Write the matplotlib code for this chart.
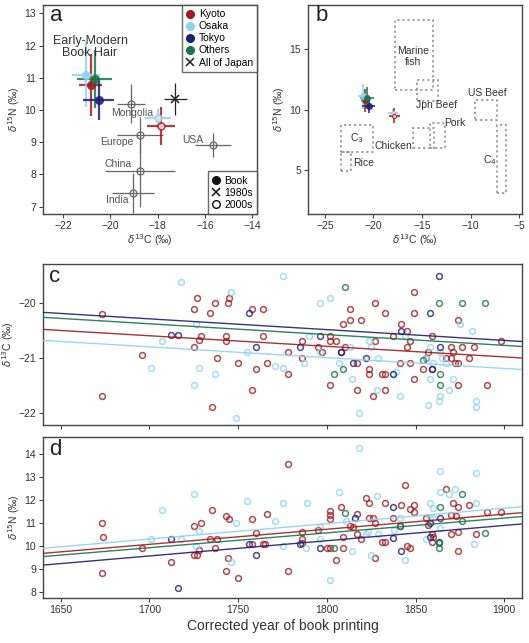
import matplotlib
matplotlib.use("Agg")
import matplotlib.pyplot as plt
from matplotlib.lines import Line2D
from matplotlib.patches import Rectangle

plt.rcParams["font.family"] = ["Liberation Sans", "DejaVu Sans"]
plt.rcParams["mathtext.fontset"] = "dejavusans"

CITIES = ["Kyoto", "Osaka", "Tokyo", "Others"]
CORES = {"Kyoto": "#a01c1e", "Osaka": "#8fd3ee", "Tokyo": "#1e1e78", "Others": "#17744b"}

# --- painel a/b: médias dos livros (Book)
BOOK_C = [-20.84, -21.03, -20.50, -20.66]
BOOK_N = [10.77, 11.10, 10.30, 10.95]
BOOK_C_ERR = [0.48, 0.60, 0.67, 0.74]
BOOK_N_ERR = [0.97, 1.02, 0.62, 0.90]

# --- 2000s (cidades modernas)
MOD_CITY = ["Osaka", "Kyoto"]
MOD_C = [-18.00, -17.85]
MOD_N = [9.74, 9.50]
MOD_C_ERR = [0.55, 0.60]
MOD_N_ERR = [0.30, 0.60]

# --- 2000s (países)
PAISES = ["Mongolia", "Europe", "China", "India", "USA"]
PAIS_C = [-19.13, -18.75, -18.74, -19.05, -15.67]
PAIS_N = [10.20, 9.22, 8.10, 7.43, 8.91]
PAIS_C_ERR = [0.60, 0.98, 1.48, 0.90, 0.75]
PAIS_N_ERR = [0.60, 0.55, 1.10, 0.62, 0.37]
PAIS_LBL_X = [-19.08, -19.71, -19.67, -19.71, -16.53]
PAIS_LBL_Y = [9.90, 9.00, 8.32, 7.20, 9.07]

# --- 1980s (All of Japan)
JAPAO_C, JAPAO_N = -17.25, 10.33
JAPAO_C_ERR, JAPAO_N_ERR = 0.48, 0.50

# --- painel b: caixas de alimentos (x0, x1, y0, y1)
ALIMENTOS = ["Marine fish", "Jpn Beef", "Chicken", "Pork", "US Beef", "C3", "Rice", "C4"]
ALIM_X0 = [-17.8, -15.5, -15.9, -14.2, -9.5, -23.3, -23.3, -7.3]
ALIM_X1 = [-13.9, -13.4, -13.8, -12.6, -7.3, -20.0, -22.3, -6.35]
ALIM_Y0 = [11.6, 10.75, 6.8, 6.8, 9.15, 6.5, 4.9, 3.05]
ALIM_Y1 = [17.45, 12.45, 8.45, 8.85, 10.8, 8.7, 6.5, 8.7]
ALIM_ROTULOS = ["Marine\nfish", "Jpn Beef", "Chicken", "Pork", "US Beef", "C$_3$", "Rice", "C$_4$"]
ALIM_LBL_X = [-15.9, -13.5, -18.0, -11.6, -8.3, -21.7, -21.0, -8.0]
ALIM_LBL_Y = [14.4, 10.35, 6.95, 8.9, 11.4, 7.6, 5.55, 5.8]

# --- painel c: δ13C por ano
C_ANO = {
    "Kyoto": [1673, 1673, 1696, 1727, 1725, 1725, 1729, 1728, 1734, 1737, 1738, 1735, 1744, 1745,
              1743, 1743, 1750, 1758, 1764, 1764, 1760, 1766, 1758,
              1778, 1778, 1786, 1786, 1795, 1797, 1802, 1802, 1805, 1802, 1809, 1813, 1813, 1819,
              1810, 1808, 1817, 1817, 1827, 1827, 1824, 1824, 1831, 1833, 1833, 1833, 1826, 1837,
              1842, 1845, 1845, 1847, 1841, 1847, 1849, 1849, 1849, 1859, 1857, 1856, 1854, 1859,
              1867, 1870, 1871, 1870, 1872, 1874, 1876, 1874, 1880, 1883, 1874, 1890, 1898],
    "Osaka": [1718, 1746, 1726, 1707, 1701, 1728, 1737, 1725, 1749, 1755, 1771, 1775, 1775,
              1796, 1802, 1787, 1790, 1796, 1807, 1813, 1814, 1824, 1825, 1829, 1828, 1818, 1837,
              1841, 1844, 1856, 1858, 1864, 1865, 1867, 1858, 1857, 1863, 1864, 1869, 1871, 1875,
              1882, 1884, 1884, 1860, 1839],
    "Tokyo": [1712, 1716, 1756, 1760, 1785, 1796, 1815, 1837, 1842, 1858, 1863, 1864, 1859,
              1808, 1822],
    "Others": [1810, 1863, 1876, 1889, 1854, 1804, 1809, 1864, 1864],
}
C_VAL = {
    "Kyoto": [-20.20, -21.70, -20.95, -19.90, -20.10, -20.80, -20.60, -20.67, -20.19, -20.00,
              -21.00, -21.90, -20.00, -19.90, -20.60, -20.70, -21.10, -20.10, -20.10, -20.60,
              -21.20, -21.10, -21.59,
              -20.90, -21.30, -20.70, -21.00, -20.80, -20.90, -20.60, -20.70, -20.70, -21.50,
              -20.39, -20.10, -20.30, -20.30, -20.80, -20.90, -21.10, -21.59, -20.00, -20.70,
              -21.20, -21.30, -21.30, -21.30, -20.19, -21.59, -21.70, -20.60, -20.39, -20.50,
              -20.80, -20.70, -21.10, -21.10, -19.80, -20.19, -21.39, -20.60, -20.90, -21.00,
              -21.20, -21.20, -21.00, -20.80, -20.90, -21.00, -21.10, -21.10, -20.80, -20.30,
              -21.00, -20.80, -21.50, -21.50, -20.70],
    "Osaka": [-19.61, -19.80, -20.39, -20.70, -21.19, -21.19, -21.30, -21.50, -22.09, -20.90,
              -21.15, -21.19, -19.50,
              -20.00, -19.90, -21.10, -20.60, -20.90, -21.10, -20.80, -21.39, -20.70, -20.80,
              -21.00, -21.59, -22.00, -21.30, -21.70, -20.60, -21.00, -20.80, -20.90, -21.00,
              -21.10, -21.39, -21.85, -21.79, -21.70, -21.59, -21.39, -20.39, -20.50, -21.79,
              -21.90, -21.10, -21.25],
    "Tokyo": [-20.59, -20.59, -20.19, -20.80, -20.80, -20.60, -21.10, -21.30, -20.50, -20.19,
              -19.50, -20.80, -21.20, -20.90, -21.00],
    "Others": [-19.70, -20.00, -20.00, -20.00, -21.04, -21.30, -21.20, -21.30, -21.50],
}

# --- painel d: δ15N por ano
D_ANO = {
    "Kyoto": [1673, 1674, 1673, 1696, 1712, 1725, 1729, 1735, 1743, 1745, 1734, 1738, 1728, 1737,
              1725, 1727, 1744, 1743, 1750, 1758, 1760, 1766, 1758, 1764, 1765,
              1778, 1778, 1786, 1786, 1786, 1795, 1802, 1802, 1802, 1808, 1817, 1813, 1815, 1809,
              1802, 1800, 1809, 1805, 1817, 1819, 1822, 1824, 1824, 1826, 1827, 1827, 1831, 1833,
              1833, 1837, 1842, 1844, 1847, 1849, 1849, 1845, 1847, 1841, 1859, 1860, 1859, 1857,
              1856, 1867, 1870, 1873, 1871, 1874, 1880, 1870, 1874, 1874, 1884, 1890, 1898],
    "Osaka": [1707, 1725, 1701, 1718, 1728, 1749, 1755, 1771, 1775, 1746, 1726, 1775,
              1818, 1789, 1807, 1828, 1796, 1796, 1788, 1814, 1822, 1829, 1825, 1838, 1841, 1844,
              1802, 1858, 1860, 1864, 1864, 1869, 1872, 1884, 1884, 1856, 1864, 1858, 1883, 1860,
              1816, 1811, 1823],
    "Tokyo": [1712, 1716, 1756, 1760, 1785, 1796, 1816, 1837, 1837, 1842, 1858, 1864, 1858, 1863],
    "Others": [1810, 1804, 1864, 1876, 1876, 1889, 1863, 1863, 1841],
}
D_VAL = {
    "Kyoto": [10.99, 10.39, 8.81, 9.90, 9.29, 10.88, 10.99, 11.58, 11.29, 11.17, 10.29, 10.29,
              9.83, 9.90, 9.61, 9.61, 9.49, 8.91, 8.59, 11.17, 10.58, 11.38, 10.09, 10.09, 10.09,
              13.57, 8.91, 10.59, 10.29, 10.12, 10.68, 11.52, 11.35, 11.17, 11.68, 11.38, 10.88,
              10.84, 10.39, 9.90, 9.90, 9.90, 9.39, 10.51, 10.29, 12.07, 11.86, 11.20, 11.20,
              10.99, 9.49, 10.19, 10.19, 11.86, 11.20, 11.78, 12.65, 11.59, 11.78, 11.46, 10.00,
              9.90, 10.88, 10.51, 10.39, 10.19, 10.91, 11.20, 12.48, 11.35, 11.30, 11.88, 11.70,
              11.78, 10.51, 10.59, 9.80, 10.51, 11.46, 11.46],
    "Osaka": [11.58, 12.26, 10.29, 10.29, 10.67, 10.99, 11.97, 11.09, 11.87, 9.29, 10.00, 10.00,
              14.25, 11.87, 12.36, 12.17, 10.84, 10.29, 9.90, 9.78, 10.51, 10.51, 9.61, 10.70,
              11.20, 9.39, 8.51, 11.87, 11.64, 13.26, 12.36, 12.26, 12.48, 13.16, 11.87, 10.29,
              10.80, 11.20, 10.09, 11.20, 11.20, 11.09, 10.62],
    "Tokyo": [10.29, 8.19, 10.09, 9.59, 10.09, 9.90, 11.20, 11.68, 10.33, 9.80, 10.99, 11.20,
              10.39, 10.19],
    "Others": [11.42, 9.90, 11.71, 12.26, 11.09, 10.58, 10.12, 9.90, 10.88],
}

# --- retas de regressão (valor em 1640 e 1910)
REG_ANOS = [1640, 1910]
C_REG = {"Kyoto": [-20.48, -21.00], "Osaka": [-20.68, -21.21],
         "Tokyo": [-20.17, -20.70], "Others": [-20.26, -20.79]}
D_REG = {"Kyoto": [9.68, 11.45], "Osaka": [9.90, 11.71],
         "Tokyo": [9.17, 10.96], "Others": [9.54, 11.28]}

COR_EIXO = "#444444"
COR_TEXTO = "#333333"
COR_CINZA = "#666666"


def estilo(ax):
    for s in ax.spines.values():
        s.set_color(COR_EIXO)
        s.set_linewidth(1.0)
    ax.tick_params(direction="out", length=3, width=0.8, color=COR_EIXO,
                   labelsize=7.5, labelcolor=COR_TEXTO, pad=2)


def letra(ax, txt, x=0.025, y=0.99):
    ax.text(x, y, txt, transform=ax.transAxes, fontsize=16, va="top", ha="left", color="#222",
            zorder=7)


def painel_a(ax):
    for lbl_x, lbl_y, nome, c, n, ce, ne in zip(PAIS_LBL_X, PAIS_LBL_Y, PAISES, PAIS_C, PAIS_N,
                                                PAIS_C_ERR, PAIS_N_ERR):
        ax.errorbar(c, n, xerr=ce, yerr=ne, fmt="o", mfc="none", mec=COR_CINZA, ms=5,
                    mew=0.9, ecolor=COR_CINZA, elinewidth=0.9, capsize=0, zorder=2)
        ax.text(lbl_x, lbl_y, nome, fontsize=7.5, color="#555", ha="center", va="center",
                zorder=3)
    ax.errorbar(JAPAO_C, JAPAO_N, xerr=JAPAO_C_ERR, yerr=JAPAO_N_ERR, fmt="x", color="#222",
                ms=6, mew=1.1, elinewidth=0.9, capsize=0, zorder=3)
    for cidade, c, n, ce, ne in zip(MOD_CITY, MOD_C, MOD_N, MOD_C_ERR, MOD_N_ERR):
        ax.errorbar(c, n, xerr=ce, yerr=ne, fmt="o", mfc="#f4dede", mec=CORES[cidade], ms=5,
                    mew=1.1, ecolor=CORES[cidade], elinewidth=1.6, capsize=0, alpha=0.85,
                    zorder=4)
    for cidade, c, n, ce, ne in zip(CITIES, BOOK_C, BOOK_N, BOOK_C_ERR, BOOK_N_ERR):
        ax.errorbar(c, n, xerr=ce, yerr=ne, fmt="o", color=CORES[cidade], ms=5.5,
                    elinewidth=1.6, capsize=0, alpha=0.85, zorder=5)

    ax.set_xlim(-22.85, -13.8)
    ax.set_ylim(6.77, 13.26)
    ax.set_xticks([-22, -20, -18, -16, -14])
    ax.set_yticks([7, 8, 9, 10, 11, 12, 13])
    ax.set_xlabel(r"$\delta^{13}$C (‰)", fontsize=7.5, color=COR_TEXTO, labelpad=1)
    ax.set_ylabel(r"$\delta^{15}$N (‰)", fontsize=7.5, color=COR_TEXTO, labelpad=2)
    estilo(ax)
    letra(ax, "a", x=0.035, y=1.0)
    ax.text(-20.86, 11.97, "Early-Modern\nBook Hair", fontsize=9, ha="center", va="center",
            color="#333", linespacing=1.0, zorder=7)

    alcas = [Line2D([], [], marker="o", ls="none", color=CORES[c], ms=5.5) for c in CITIES]
    alcas.append(Line2D([], [], marker="x", ls="none", color="#222", ms=5.5, mew=1.1))
    leg1 = ax.legend(alcas, CITIES + ["All of Japan"], loc="upper right", borderaxespad=0,
                     fontsize=7.5, handlelength=0.8, handletextpad=0.4, labelspacing=0.2,
                     borderpad=0.4, fancybox=False, edgecolor=COR_EIXO)
    leg1.get_frame().set_linewidth(1.0)
    ax.add_artist(leg1)
    alcas2 = [Line2D([], [], marker="o", ls="none", color="#111", ms=5.5),
              Line2D([], [], marker="x", ls="none", color="#111", ms=5.5, mew=1.1),
              Line2D([], [], marker="o", ls="none", mfc="none", mec="#111", ms=5.5)]
    leg2 = ax.legend(alcas2, ["Book", "1980s", "2000s"], loc="lower right", borderaxespad=0,
                     fontsize=7.5, handlelength=0.8, handletextpad=0.4, labelspacing=0.2,
                     borderpad=0.4, fancybox=False, edgecolor=COR_EIXO)
    leg2.get_frame().set_linewidth(1.0)


def painel_b(ax):
    for rot, x0, x1, y0, y1, lx, ly in zip(ALIM_ROTULOS, ALIM_X0, ALIM_X1, ALIM_Y0, ALIM_Y1,
                                           ALIM_LBL_X, ALIM_LBL_Y):
        ax.add_patch(Rectangle((x0, y0), x1 - x0, y1 - y0, fill=False, edgecolor="#999",
                               linewidth=1.3, linestyle=(0, (1.2, 1.6)), zorder=1))
        ax.text(lx, ly, rot, fontsize=7.5, ha="center", va="center", color="#333",
                linespacing=1.05, zorder=3)
    for cidade, c, n, ce, ne in zip(MOD_CITY, MOD_C, MOD_N, MOD_C_ERR, MOD_N_ERR):
        ax.errorbar(c, n, xerr=ce, yerr=ne, fmt="o", mfc="#f4dede", mec=CORES[cidade], ms=3,
                    mew=0.8, ecolor=CORES[cidade], elinewidth=1.3, capsize=0, alpha=0.85,
                    zorder=4)
    for cidade, c, n, ce, ne in zip(CITIES, BOOK_C, BOOK_N, BOOK_C_ERR, BOOK_N_ERR):
        ax.errorbar(c, n, xerr=ce, yerr=ne, fmt="o", color=CORES[cidade], ms=4,
                    elinewidth=1.3, capsize=0, alpha=0.85, zorder=5)
    ax.set_xlim(-26.75, -4.7)
    ax.set_ylim(1.35, 18.67)
    ax.set_xticks([-25, -20, -15, -10, -5])
    ax.set_yticks([5, 10, 15])
    ax.set_xlabel(r"$\delta^{13}$C (‰)", fontsize=7.5, color=COR_TEXTO, labelpad=1)
    ax.set_ylabel(r"$\delta^{15}$N (‰)", fontsize=7.5, color=COR_TEXTO, labelpad=2)
    estilo(ax)
    letra(ax, "b", x=0.035, y=1.0)


def painel_tempo(ax, anos, valores, reg):
    for cidade in CITIES:
        ax.plot(anos[cidade], valores[cidade], "o", mfc="none", mec=CORES[cidade], ms=4.2,
                mew=1.1, alpha=0.8, zorder=2)
    for cidade in ["Osaka", "Kyoto", "Others", "Tokyo"]:
        ax.plot(REG_ANOS, reg[cidade], color=CORES[cidade], lw=1.0, alpha=0.9, zorder=3)
    ax.set_xlim(1640, 1910)
    ax.set_xticks([1650, 1700, 1750, 1800, 1850, 1900])
    estilo(ax)


fig = plt.figure(figsize=(5.29, 6.43), dpi=100)
ax_a = fig.add_axes([0.0813, 0.6672, 0.4045, 0.325])
ax_b = fig.add_axes([0.5822, 0.6672, 0.4045, 0.325])
ax_c = fig.add_axes([0.0813, 0.339, 0.9055, 0.2504])
ax_d = fig.add_axes([0.0813, 0.070, 0.9055, 0.2504])

painel_a(ax_a)
painel_b(ax_b)

painel_tempo(ax_c, C_ANO, C_VAL, C_REG)
ax_c.set_ylim(-22.22, -19.29)
ax_c.set_yticks([-22, -21, -20])
ax_c.tick_params(axis="x", labelbottom=False)
ax_c.set_ylabel(r"$\delta^{13}$C (‰)", fontsize=7.5, color=COR_TEXTO, labelpad=2)
letra(ax_c, "c", x=0.012, y=0.99)

painel_tempo(ax_d, D_ANO, D_VAL, D_REG)
ax_d.set_ylim(7.74, 14.74)
ax_d.set_yticks([8, 9, 10, 11, 12, 13, 14])
ax_d.set_ylabel(r"$\delta^{15}$N (‰)", fontsize=7.5, color=COR_TEXTO, labelpad=2)
ax_d.set_xlabel("Corrected year of book printing", fontsize=10, color=COR_TEXTO, labelpad=3)
letra(ax_d, "d", x=0.012, y=0.99)

fig.savefig("out.png", dpi=100)
